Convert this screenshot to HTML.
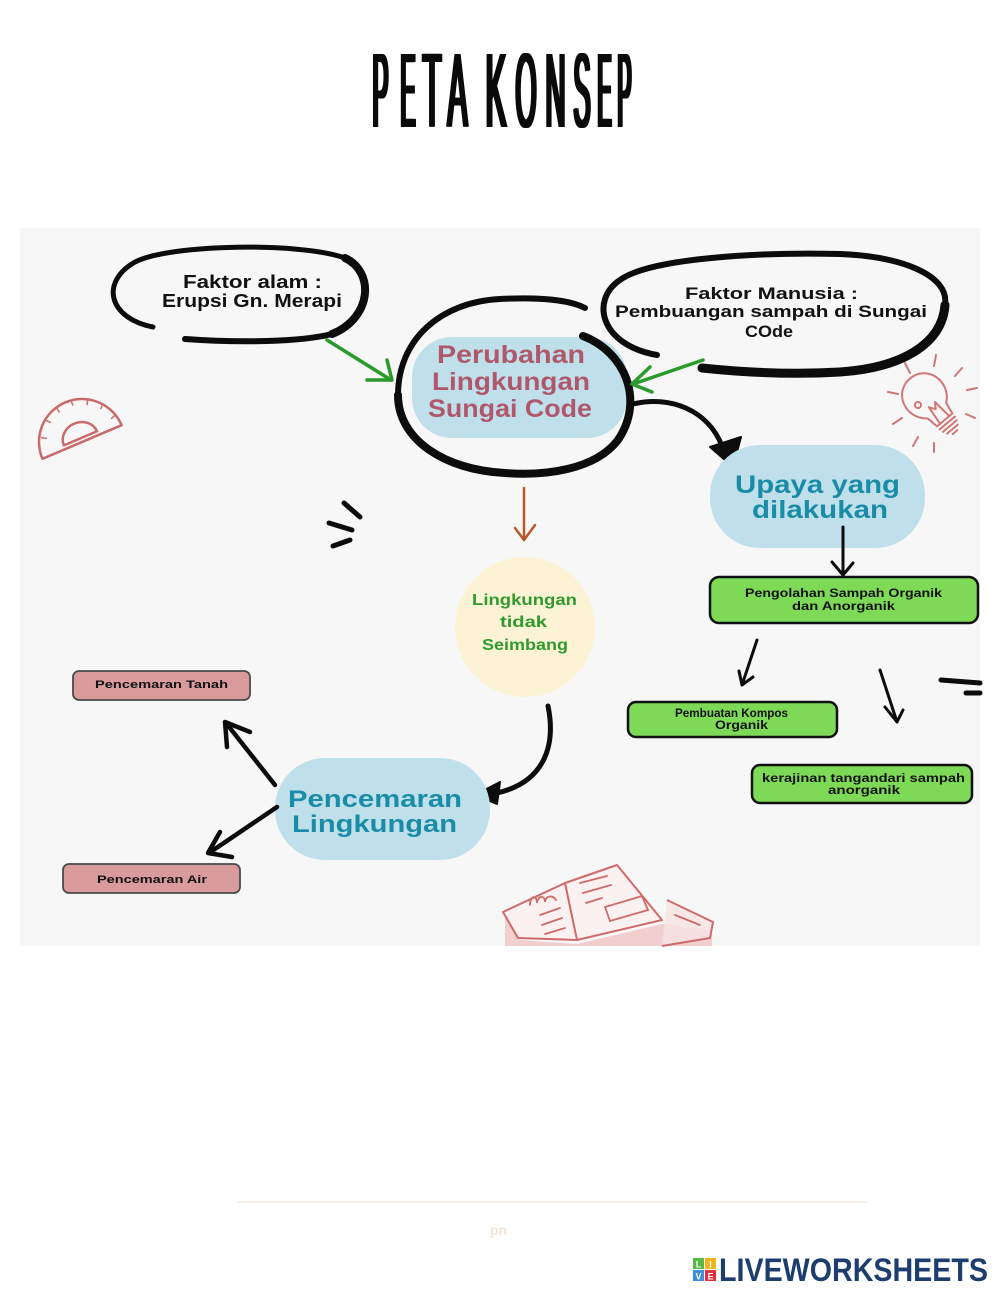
<!DOCTYPE html>
<html>
<head>
<meta charset="utf-8">
<style>
html,body{margin:0;padding:0;background:#fff;}
svg{display:block;}
text{font-family:"Liberation Sans",sans-serif;}
</style>
</head>
<body>
<svg width="1000" height="1294" viewBox="0 0 1000 1294" xmlns="http://www.w3.org/2000/svg">
<rect x="0" y="0" width="1000" height="1294" fill="#ffffff"/>

<!-- Title -->
<g font-size="106" fill="#0a0a0a">
  <text x="371" y="127" textLength="16" lengthAdjust="spacingAndGlyphs">P</text>
  <text x="399" y="127" textLength="15" lengthAdjust="spacingAndGlyphs">E</text>
  <text x="421" y="127" textLength="19" lengthAdjust="spacingAndGlyphs">T</text>
  <text x="446" y="127" textLength="20" lengthAdjust="spacingAndGlyphs">A</text>
  <text x="484" y="127" textLength="21" lengthAdjust="spacingAndGlyphs">K</text>
  <text x="514" y="127" textLength="21" lengthAdjust="spacingAndGlyphs">O</text>
  <text x="544" y="127" textLength="20" lengthAdjust="spacingAndGlyphs">N</text>
  <text x="572" y="127" textLength="17" lengthAdjust="spacingAndGlyphs">S</text>
  <text x="596" y="127" textLength="14" lengthAdjust="spacingAndGlyphs">E</text>
  <text x="616" y="127" textLength="14" lengthAdjust="spacingAndGlyphs">P</text>
</g>
<g font-size="106" fill="#0a0a0a" transform="translate(1.5 0)">
  <text x="371" y="127" textLength="16" lengthAdjust="spacingAndGlyphs">P</text>
  <text x="399" y="127" textLength="15" lengthAdjust="spacingAndGlyphs">E</text>
  <text x="421" y="127" textLength="19" lengthAdjust="spacingAndGlyphs">T</text>
  <text x="446" y="127" textLength="20" lengthAdjust="spacingAndGlyphs">A</text>
  <text x="484" y="127" textLength="21" lengthAdjust="spacingAndGlyphs">K</text>
  <text x="514" y="127" textLength="21" lengthAdjust="spacingAndGlyphs">O</text>
  <text x="544" y="127" textLength="20" lengthAdjust="spacingAndGlyphs">N</text>
  <text x="572" y="127" textLength="17" lengthAdjust="spacingAndGlyphs">S</text>
  <text x="596" y="127" textLength="14" lengthAdjust="spacingAndGlyphs">E</text>
  <text x="616" y="127" textLength="14" lengthAdjust="spacingAndGlyphs">P</text>
</g>
<g font-size="106" fill="#0a0a0a" transform="translate(3 0)">
  <text x="371" y="127" textLength="16" lengthAdjust="spacingAndGlyphs">P</text>
  <text x="399" y="127" textLength="15" lengthAdjust="spacingAndGlyphs">E</text>
  <text x="421" y="127" textLength="19" lengthAdjust="spacingAndGlyphs">T</text>
  <text x="446" y="127" textLength="20" lengthAdjust="spacingAndGlyphs">A</text>
  <text x="484" y="127" textLength="21" lengthAdjust="spacingAndGlyphs">K</text>
  <text x="514" y="127" textLength="21" lengthAdjust="spacingAndGlyphs">O</text>
  <text x="544" y="127" textLength="20" lengthAdjust="spacingAndGlyphs">N</text>
  <text x="572" y="127" textLength="17" lengthAdjust="spacingAndGlyphs">S</text>
  <text x="596" y="127" textLength="14" lengthAdjust="spacingAndGlyphs">E</text>
  <text x="616" y="127" textLength="14" lengthAdjust="spacingAndGlyphs">P</text>
</g>

<!-- Paper background -->
<rect x="20" y="228" width="960" height="718" fill="#f7f7f7"/>

<!-- Left bubble: Faktor alam -->
<g fill="none" stroke="#0c0c0c" stroke-linecap="round">
  <path d="M 153 327 C 108 318, 100 282, 135 262 C 170 244, 300 242, 345 258" stroke-width="5"/>
  <path d="M 345 258 C 375 272, 372 318, 332 334" stroke-width="8"/>
  <path d="M 185 339 C 240 343, 300 342, 332 334" stroke-width="6"/>
</g>
<text x="183" y="288" font-size="18" font-weight="bold" fill="#111" textLength="139" lengthAdjust="spacingAndGlyphs">Faktor alam :</text>
<text x="162" y="307" font-size="18" font-weight="bold" fill="#111" textLength="180" lengthAdjust="spacingAndGlyphs">Erupsi Gn. Merapi</text>

<!-- Right bubble: Faktor Manusia -->
<g fill="none" stroke="#0c0c0c" stroke-linecap="round">
  <path d="M 657 355 C 600 345, 590 300, 620 280 C 650 258, 760 252, 840 254 C 900 256, 950 275, 945 305" stroke-width="6"/>
  <path d="M 945 305 C 942 345, 900 368, 840 372 C 790 375, 740 372, 702 368" stroke-width="9"/>
</g>
<text x="685" y="299" font-size="17" font-weight="bold" fill="#111" textLength="173" lengthAdjust="spacingAndGlyphs">Faktor Manusia :</text>
<text x="615" y="317" font-size="17" font-weight="bold" fill="#111" textLength="312" lengthAdjust="spacingAndGlyphs">Pembuangan sampah di Sungai</text>
<text x="745" y="337" font-size="17" font-weight="bold" fill="#111" textLength="48" lengthAdjust="spacingAndGlyphs">COde</text>

<!-- Central node -->
<rect x="412" y="337" width="215" height="101" rx="40" fill="#bfe0ea"/>
<g fill="none" stroke="#0c0c0c" stroke-linecap="round">
  <path d="M 583 336 C 625 352, 645 400, 618 440 C 595 470, 545 476, 505 473 C 445 470, 398 440, 398 395" stroke-width="8"/>
  <path d="M 398 395 C 398 340, 440 302, 500 299 C 540 297, 570 300, 585 308" stroke-width="6"/>
</g>
<text x="437" y="363" font-size="25" font-weight="bold" fill="#b0586b" textLength="148" lengthAdjust="spacingAndGlyphs">Perubahan</text>
<text x="432" y="390" font-size="25" font-weight="bold" fill="#b0586b" textLength="158" lengthAdjust="spacingAndGlyphs">Lingkungan</text>
<text x="428" y="417" font-size="25" font-weight="bold" fill="#b0586b" textLength="164" lengthAdjust="spacingAndGlyphs">Sungai Code</text>

<!-- Green arrows -->
<g fill="none" stroke="#2a9a2a" stroke-width="3.5" stroke-linecap="round" stroke-linejoin="round">
  <path d="M 327 340 L 391 380"/>
  <path d="M 367 380 L 392 380 L 387 360"/>
  <path d="M 703 360 L 633 384"/>
  <path d="M 650 367 L 632 384 L 652 392"/>
</g>

<!-- Black curved arrow to Upaya -->
<path d="M 633 404 C 670 395, 708 410, 722 446" fill="none" stroke="#0c0c0c" stroke-width="5" stroke-linecap="round"/>
<path d="M 710 447 L 741 437 L 733 467 Z" fill="#0c0c0c" stroke="#0c0c0c" stroke-width="2" stroke-linejoin="round"/>

<!-- Upaya node -->
<rect x="710" y="445" width="215" height="103" rx="50" fill="#bfe0ea"/>
<text x="735" y="493" font-size="25" font-weight="bold" fill="#1b8ca8" textLength="165" lengthAdjust="spacingAndGlyphs">Upaya yang</text>
<text x="752" y="518" font-size="25" font-weight="bold" fill="#1b8ca8" textLength="136" lengthAdjust="spacingAndGlyphs">dilakukan</text>

<!-- Upaya down arrow -->
<g fill="none" stroke="#0c0c0c" stroke-width="3" stroke-linecap="round" stroke-linejoin="round">
  <path d="M 843 527 L 843 575"/>
  <path d="M 832 562 L 843 575 L 853 563"/>
</g>

<!-- Green boxes -->
<rect x="710" y="577" width="268" height="46" rx="9" fill="#7ed957" stroke="#111" stroke-width="2.5"/>
<text x="745" y="597" font-size="11.5" font-weight="bold" fill="#111" textLength="197" lengthAdjust="spacingAndGlyphs">Pengolahan Sampah Organik</text>
<text x="792" y="610" font-size="11.5" font-weight="bold" fill="#111" textLength="103" lengthAdjust="spacingAndGlyphs">dan Anorganik</text>

<rect x="628" y="702" width="209" height="35" rx="8" fill="#7ed957" stroke="#111" stroke-width="2.5"/>
<text x="675" y="717" font-size="11.5" font-weight="bold" fill="#111" textLength="113" lengthAdjust="spacingAndGlyphs">Pembuatan Kompos</text>
<text x="715" y="729" font-size="11.5" font-weight="bold" fill="#111" textLength="53" lengthAdjust="spacingAndGlyphs">Organik</text>

<rect x="752" y="765" width="220" height="38" rx="8" fill="#7ed957" stroke="#111" stroke-width="2.5"/>
<text x="762" y="782" font-size="11.5" font-weight="bold" fill="#111" textLength="203" lengthAdjust="spacingAndGlyphs">kerajinan tangandari sampah</text>
<text x="828" y="794" font-size="11.5" font-weight="bold" fill="#111" textLength="72" lengthAdjust="spacingAndGlyphs">anorganik</text>

<!-- Arrows from Pengolahan -->
<g fill="none" stroke="#0c0c0c" stroke-width="3" stroke-linecap="round" stroke-linejoin="round">
  <path d="M 757 640 L 742 685"/>
  <path d="M 739 671 L 742 685 L 753 677"/>
  <path d="M 880 670 L 897 722"/>
  <path d="M 885 707 L 897 722 L 903 710"/>
</g>
<!-- right dashes -->
<g stroke="#0c0c0c" stroke-width="5" stroke-linecap="round">
  <path d="M 941 680 L 980 683"/>
  <path d="M 966 693 L 980 693"/>
</g>

<!-- Orange arrow -->
<g fill="none" stroke="#b8582a" stroke-width="2.5" stroke-linecap="round" stroke-linejoin="round">
  <path d="M 524 488 L 524 540"/>
  <path d="M 515 528 L 524 540 L 535 525"/>
</g>

<!-- Yellow circle -->
<circle cx="525" cy="627" r="70" fill="#fcf2d4"/>
<text x="472" y="605" font-size="16" font-weight="bold" fill="#2f9a2f" textLength="105" lengthAdjust="spacingAndGlyphs">Lingkungan</text>
<text x="500" y="627" font-size="16" font-weight="bold" fill="#2f9a2f" textLength="47" lengthAdjust="spacingAndGlyphs">tidak</text>
<text x="482" y="650" font-size="16" font-weight="bold" fill="#2f9a2f" textLength="86" lengthAdjust="spacingAndGlyphs">Seimbang</text>

<!-- Curved arrow to Pencemaran -->
<path d="M 548 706 C 556 745, 545 782, 497 793" fill="none" stroke="#0c0c0c" stroke-width="5" stroke-linecap="round"/>
<path d="M 475 795 L 500 782 L 497 804 Z" fill="#0c0c0c" stroke="#0c0c0c" stroke-width="2" stroke-linejoin="round"/>

<!-- Pencemaran node -->
<rect x="275" y="758" width="215" height="102" rx="50" fill="#bfe0ea"/>
<text x="288" y="807" font-size="24" font-weight="bold" fill="#1b8ca8" textLength="174" lengthAdjust="spacingAndGlyphs">Pencemaran</text>
<text x="292" y="832" font-size="24" font-weight="bold" fill="#1b8ca8" textLength="165" lengthAdjust="spacingAndGlyphs">Lingkungan</text>

<!-- Arrows to pink boxes -->
<g fill="none" stroke="#0c0c0c" stroke-width="4.5" stroke-linecap="round" stroke-linejoin="round">
  <path d="M 275 785 L 226 723"/>
  <path d="M 250 732 L 225 722 L 227 747"/>
  <path d="M 277 807 L 209 853"/>
  <path d="M 220 832 L 208 853 L 232 857"/>
</g>

<!-- Pink boxes -->
<rect x="73" y="671" width="177" height="29" rx="6" fill="#d99b9b" stroke="#4a4a4a" stroke-width="1.8"/>
<text x="95" y="688" font-size="11" font-weight="bold" fill="#111" textLength="133" lengthAdjust="spacingAndGlyphs">Pencemaran Tanah</text>
<rect x="63" y="864" width="177" height="29" rx="6" fill="#d99b9b" stroke="#4a4a4a" stroke-width="1.8"/>
<text x="97" y="883" font-size="11" font-weight="bold" fill="#111" textLength="110" lengthAdjust="spacingAndGlyphs">Pencemaran Air</text>

<!-- Left dashes -->
<g stroke="#0c0c0c" stroke-width="5" stroke-linecap="round">
  <path d="M 344 503 L 360 517"/>
  <path d="M 329 523 L 352 530"/>
  <path d="M 333 546 L 350 540"/>
</g>

<!-- Protractor -->
<g transform="rotate(-23 82 442)" fill="none" stroke="#c96b6b" stroke-width="2.5" stroke-linejoin="round">
  <path d="M 39 442 A 43 43 0 0 1 125 442 Z"/>
  <path d="M 64 438 A 18 16 0 0 1 100 438 Z"/>
  <g stroke-width="1.5">
    <path d="M 46 422 L 51 425 M 57 408 L 61 412 M 72 401 L 73 406 M 88 400 L 88 405 M 104 405 L 101 410 M 116 415 L 112 419 M 123 430 L 118 432"/>
  </g>
</g>

<!-- Lightbulb -->
<g fill="none" stroke="#d07676" stroke-width="2" stroke-linecap="round" stroke-linejoin="round">
  <g transform="rotate(-40 928 400)">
    <path d="M 916 414 C 898 400, 906 372, 928 372 C 950 372, 958 400, 940 414 L 938 426 L 918 426 Z"/>
    <path d="M 918 430 L 938 430 M 919 434 L 937 434 M 921 438 L 935 438 M 925 442 L 931 442"/>
    <path d="M 922 426 L 924 406 L 928 412 L 932 406 L 934 426"/>
  </g>
  <circle cx="918" cy="405" r="3"/>
  <path d="M 905 363 L 910 373 M 936 355 L 934 366 M 962 368 L 955 376 M 977 388 L 967 390 M 975 418 L 966 414 M 888 392 L 898 394 M 893 424 L 902 418 M 913 446 L 918 437 M 934 452 L 934 443"/>
</g>

<!-- Book -->
<g>
  <path d="M 505 914 L 520 940 L 577 944 L 662 924 L 712 930 L 712 946 L 505 946 Z" fill="#f1cfcf"/>
  <path d="M 503 912 L 565 883 L 617 865 L 662 920 L 577 940 L 518 938 Z" fill="#fbf1f1" stroke="#d06a6a" stroke-width="2" stroke-linejoin="round"/>
  <path d="M 565 883 L 577 940" stroke="#d06a6a" stroke-width="2" fill="none"/>
  <path d="M 667 900 L 713 922 L 710 938 L 662 946" fill="#f6e2e2" stroke="#d06a6a" stroke-width="2" fill-opacity="0.8" stroke-linejoin="round"/>
  <g fill="none" stroke="#d06a6a" stroke-width="1.8" stroke-linecap="round">
    <path d="M 530 905 C 530 895, 537 895, 537 903 C 538 895, 545 895, 545 902 C 546 895, 553 895, 556 900"/>
    <path d="M 540 915 L 560 908 M 542 925 L 562 918 M 545 934 L 565 928"/>
    <path d="M 580 883 L 607 876 M 583 893 L 611 885 M 586 903 L 602 898"/>
    <path d="M 605 907 L 642 896 L 648 910 L 610 921 Z"/>
    <path d="M 675 915 L 700 925"/>
  </g>
</g>

<!-- Footer -->
<line x1="237" y1="1202" x2="868" y2="1202" stroke="#f7efe3" stroke-width="1.5"/>
<text x="490" y="1235" font-size="14" font-weight="bold" fill="#f3e3da">pn</text>

<!-- Liveworksheets logo -->
<rect x="693" y="1258" width="11" height="11" fill="#58b947"/>
<rect x="705" y="1258" width="11" height="11" fill="#f2b21c"/>
<rect x="693" y="1270" width="11" height="11" fill="#3d8fdc"/>
<rect x="705" y="1270" width="11" height="11" fill="#e2323f"/>
<text x="698.5" y="1267.5" font-size="9" font-weight="bold" fill="#fff" text-anchor="middle">L</text>
<text x="710.5" y="1267.5" font-size="9" font-weight="bold" fill="#fff" text-anchor="middle">I</text>
<text x="698.5" y="1279.5" font-size="9" font-weight="bold" fill="#fff" text-anchor="middle">V</text>
<text x="710.5" y="1279.5" font-size="9" font-weight="bold" fill="#fff" text-anchor="middle">E</text>
<text x="719" y="1281" font-size="32" font-weight="bold" fill="#1c3d6e" textLength="269" lengthAdjust="spacingAndGlyphs">LIVEWORKSHEETS</text>
</svg>
</body>
</html>
